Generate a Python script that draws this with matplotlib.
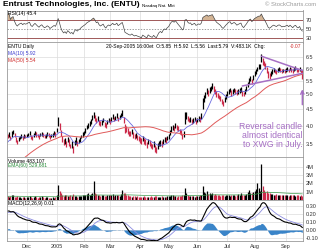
import numpy as np
import pandas as pd
import matplotlib
matplotlib.use('Agg')
import matplotlib.pyplot as plt

plt.rcParams['font.family'] = ['Liberation Sans', 'DejaVu Sans']

# trading days shown (NYSE holidays removed)
holidays = ['2004-11-25', '2004-12-24', '2005-01-17', '2005-02-21',
            '2005-03-25', '2005-05-30', '2005-07-04', '2005-09-05']
dates = pd.bdate_range('2004-11-10', '2005-09-20', freq='C', holidays=holidays)

# closes before the visible window (only feed the indicators)
warmup = [2.45, 2.42, 2.48, 2.50, 2.46, 2.44, 2.50, 2.55, 2.58, 2.54,
          2.60, 2.64, 2.60, 2.68, 2.72, 2.70, 2.76, 2.82, 2.80, 2.88,
          2.94, 2.92, 3.00, 3.06, 3.04, 3.12, 3.18, 3.16, 3.24, 3.30,
          3.28, 3.36, 3.44, 3.42, 3.50, 3.56, 3.55, 3.62, 3.68, 3.72]

close = [
    # Nov
    3.70, 3.76, 3.64, 3.78, 3.84, 3.72, 3.62, 3.56, 3.63, 3.68, 3.71, 3.66, 3.72, 3.70,
    # Dec
    3.72, 3.76, 3.79, 3.70, 3.67, 3.74, 3.80, 3.76, 3.72, 3.69, 3.75, 3.78, 3.73, 3.70,
    3.72, 3.76, 3.74, 3.69, 3.72, 3.75, 3.78, 3.76,
    # Jan
    3.86, 4.10, 3.98, 3.80, 3.65, 3.55, 3.60, 3.50, 3.62, 3.55, 3.46, 3.50, 3.40, 3.54,
    3.60, 3.52, 3.58, 3.62, 3.70, 3.75,
    # Feb
    3.80, 3.86, 3.95, 4.00, 4.06, 4.12, 4.22, 4.30, 4.24, 4.15, 4.20, 4.10, 4.05, 4.10,
    4.15, 4.05, 4.00, 4.10, 4.15,
    # Mar
    4.12, 4.18, 4.25, 4.20, 4.22, 4.28, 4.20, 4.25, 4.30, 4.36, 4.20, 3.95, 3.90, 3.85,
    3.80, 3.78, 3.82, 3.75, 3.70, 3.72, 3.68, 3.65,
    # Apr
    3.62, 3.58, 3.65, 3.60, 3.55, 3.50, 3.58, 3.52, 3.48, 3.45, 3.50, 3.42, 3.38, 3.45,
    3.52, 3.55, 3.50, 3.58, 3.62, 3.60, 3.66,
    # May
    3.70, 3.80, 3.90, 3.95, 3.92, 4.00, 3.95, 3.90, 3.85, 3.80, 3.72, 3.76, 4.25, 4.30,
    4.20, 4.15, 4.18, 4.10, 4.15, 4.20, 4.12,
    # Jun
    4.15, 4.20, 4.18, 4.26, 4.70, 4.85, 4.95, 5.10, 5.05, 5.15, 5.20, 5.30, 5.20, 5.10,
    5.00, 4.95, 4.90, 4.85, 4.75, 4.70, 4.80, 4.90,
    # Jul
    5.00, 5.10, 5.15, 5.05, 5.10, 5.16, 5.12, 5.05, 5.10, 5.14, 5.18, 5.05, 5.00, 5.10,
    5.20, 5.35, 5.50, 5.58, 5.48, 5.62,
    # Aug
    5.78, 5.88, 5.98, 6.08, 6.10, 6.45, 6.32, 6.22, 6.10, 5.95, 5.76, 5.70, 5.78, 5.88,
    5.94, 5.90, 5.86, 5.94, 5.98, 5.94, 5.88, 5.92, 5.90,
    # Sep
    5.95, 5.98, 5.92, 6.00, 5.95, 5.90, 5.98, 6.02, 5.95, 5.92, 5.98, 5.86, 5.79,
]

# daily high / low distance from the close, in cents
hi_cents = [
    6, 5, 8, 6, 5, 8, 6, 5, 6, 4, 5, 6, 4, 5,
    5, 4, 6, 5, 4, 6, 4, 5, 6, 4, 5, 4, 6, 5, 4, 5, 6, 4, 5, 4, 6, 5,
    6, 14, 10, 8, 6, 8, 6, 8, 6, 8, 6, 8, 7, 6, 8, 6, 5, 6, 5, 6,
    6, 6, 7, 8, 6, 8, 8, 10, 8, 6, 8, 6, 8, 6, 8, 6, 8, 6, 6,
    6, 6, 8, 6, 6, 8, 6, 6, 8, 10, 6, 10, 8, 8, 6, 6, 8, 6, 6, 8, 6, 6,
    6, 8, 6, 6, 8, 6, 6, 8, 6, 6, 8, 6, 6, 8, 6, 6, 8, 6, 6, 8, 6,
    6, 8, 8, 6, 8, 8, 6, 8, 6, 8, 6, 10, 15, 10, 8, 8, 6, 8, 6, 6, 8,
    6, 8, 6, 10, 15, 12, 12, 12, 10, 10, 10, 12, 10, 10, 10, 8, 8, 10, 8, 8, 10, 10,
    10, 10, 8, 10, 8, 8, 8, 10, 8, 8, 10, 8, 8, 8, 10, 12, 12, 10, 10, 10,
    12, 10, 10, 12, 10, 20, 15, 12, 12, 12, 12, 12, 10, 10, 10, 8, 8, 10, 8, 8, 8, 8, 8,
    8, 8, 8, 8, 8, 8, 8, 8, 8, 8, 8, 8, 13,
]
lo_cents = [
    5, 6, 4, 8, 6, 4, 5, 6, 4, 5, 6, 4, 5, 4,
    4, 5, 4, 6, 5, 4, 5, 6, 4, 5, 4, 6, 5, 4, 5, 4, 6, 5, 4, 5, 4, 6,
    5, 12, 10, 8, 8, 6, 8, 6, 7, 8, 6, 8, 10, 6, 8, 6, 5, 6, 5, 6,
    5, 6, 5, 6, 6, 7, 6, 8, 10, 8, 6, 8, 6, 8, 6, 8, 6, 6, 5,
    6, 6, 6, 8, 6, 6, 8, 6, 6, 8, 12, 15, 8, 8, 8, 6, 6, 8, 6, 6, 8, 6,
    8, 6, 6, 8, 6, 8, 6, 6, 8, 6, 6, 10, 8, 6, 6, 8, 6, 6, 6, 6, 6,
    6, 6, 8, 6, 8, 6, 8, 6, 8, 6, 8, 6, 20, 10, 8, 6, 8, 6, 8, 6, 6,
    6, 6, 8, 8, 20, 12, 10, 10, 10, 10, 10, 10, 12, 10, 10, 8, 8, 10, 10, 10, 8, 8,
    8, 10, 8, 10, 8, 8, 10, 8, 8, 8, 10, 10, 8, 8, 8, 10, 12, 10, 10, 10,
    10, 10, 10, 10, 12, 15, 15, 12, 12, 15, 15, 12, 10, 10, 10, 8, 10, 8, 8, 8, 8, 8, 8,
    8, 8, 8, 8, 8, 8, 8, 8, 8, 8, 8, 8, 23,
]

# volume, millions of shares
volume = [
    0.45, 0.40, 0.50, 0.55, 0.60, 0.40, 0.35, 0.45, 0.40, 0.35, 0.30, 0.40, 0.35, 0.30,
    0.35, 0.40, 0.45, 0.35, 0.30, 0.40, 0.45, 0.35, 0.30, 0.35, 0.40, 0.45, 0.35, 0.30,
    0.35, 0.40, 0.30, 0.25, 0.30, 0.35, 0.30, 0.40,
    0.60, 1.80, 1.10, 0.80, 0.60, 0.50, 0.55, 0.60, 0.45, 0.50, 0.55, 0.45, 0.70, 0.50,
    0.45, 0.40, 0.45, 0.50, 0.45, 0.55,
    0.60, 0.55, 0.70, 0.80, 0.65, 0.75, 0.90, 2.30, 0.90, 0.70, 0.60, 0.55, 0.50, 0.60,
    0.55, 0.45, 0.50, 0.55, 0.60,
    0.55, 0.60, 0.70, 0.50, 0.55, 0.65, 0.60, 0.50, 0.70, 1.20, 0.80, 0.90, 0.60, 0.55,
    0.50, 0.45, 0.40, 0.45, 0.50, 0.40, 0.45, 0.40,
    0.40, 0.35, 0.40, 0.45, 0.35, 0.40, 0.35, 0.40, 0.45, 0.40, 0.35, 0.50, 0.45, 0.40,
    0.35, 0.40, 0.45, 0.40, 0.35, 0.40, 0.45,
    0.45, 0.50, 0.60, 0.55, 0.50, 0.45, 0.40, 0.45, 0.50, 0.45, 0.55, 0.60, 1.40, 0.80,
    0.55, 0.50, 0.45, 0.50, 0.45, 0.40, 0.45,
    0.45, 0.50, 0.55, 0.60, 1.70, 1.00, 0.90, 1.10, 0.70, 0.80, 0.75, 0.90, 0.60, 0.70,
    0.65, 0.55, 0.60, 0.50, 0.55, 0.60, 0.50, 0.55,
    0.60, 0.55, 0.50, 0.65, 0.60, 0.55, 0.50, 0.60, 0.70, 0.65, 0.80, 0.60, 0.55, 0.60,
    0.75, 1.00, 1.20, 0.90, 0.80, 1.00,
    1.10, 1.30, 2.00, 1.40, 1.10, 4.40, 1.70, 1.20, 1.00, 1.10, 0.80, 0.90, 0.70, 0.75,
    0.65, 0.60, 0.70, 0.60, 0.55, 0.65, 0.60, 0.55, 0.60,
    0.60, 0.55, 0.50, 0.65, 0.60, 0.55, 0.60, 0.50, 0.55, 0.60, 0.50, 0.55, 0.483,
]

# hand drawn triangle lines and the arrow (day index, price)
trend_days = [[186, 216], [172, 216]]
trend_prices = [[6.55, 5.92], [5.30, 5.80]]
arrow_day = 216
arrow_prices = [4.55, 5.28]

month_names = ['Dec', '2005', 'Feb', 'Mar', 'Apr', 'May', 'Jun', 'Jul', 'Aug', 'Sep']
price_ticks = [3.5, 4.0, 4.5, 5.0, 5.5, 6.0, 6.5]
rsi_ticks = [30, 50, 70]
vol_ticks = [1, 2, 3, 4]
macd_ticks = [-0.1, 0.0, 0.1, 0.2, 0.3]

# indicators
n = len(close)
s = pd.Series(warmup + close)
ma10 = s.rolling(10).mean().values[-n:]
ma50 = s.rolling(50).mean().values[-n:]
macd_full = s.ewm(span=12, adjust=False).mean() - s.ewm(span=26, adjust=False).mean()
sig_full = macd_full.ewm(span=9, adjust=False).mean()
macd = macd_full.values[-n:]
signal = sig_full.values[-n:]
hist = macd - signal
d = s.diff()
gain = d.clip(lower=0).ewm(alpha=1/14, adjust=False).mean()
loss = (-d.clip(upper=0)).ewm(alpha=1/14, adjust=False).mean()
rsi = (100 - 100 / (1 + gain / loss)).values[-n:]

cl = np.array(close)
high = cl + np.array(hi_cents) / 100
low = cl - np.array(lo_cents) / 100
prev = np.array(warmup[-1:] + close[:-1])
up = cl >= prev
red = '#cc2a4a'
colors = np.where(up, 'black', red)
vol = np.array(volume)
vol_ema = pd.Series(vol).ewm(span=60, adjust=False).mean().values

x = np.arange(n)
mstart = [i for i in range(1, n) if dates[i].month != dates[i - 1].month]

fig = plt.figure(figsize=(3.2, 2.5), dpi=100)
fig.patch.set_facecolor('white')
L, W = 7 / 320, 296 / 320


def panel(top, bottom):
    ax = fig.add_axes([L, 1 - bottom / 250, W, (bottom - top) / 250])
    ax.set_xlim(-0.5, n - 0.5)
    ax.set_xticks(mstart)
    ax.set_xticklabels([])
    ax.yaxis.tick_right()
    ax.tick_params(length=0, labelsize=4, pad=2, colors='#333333')
    ax.grid(True, color='#dcdcdc', lw=0.5)
    ax.set_axisbelow(True)
    for sp in ax.spines.values():
        sp.set_color('#9a9a9a')
        sp.set_linewidth(0.6)
    return ax


# RSI
ax_r = panel(10.5, 42.5)
ax_r.set_ylim(19, 92)
ax_r.set_yticks(rsi_ticks)
ax_r.set_yticklabels(['30', '50', '70'])
ax_r.grid(False, axis='y')
ax_r.axhline(70, color='#a05858', lw=0.7)
ax_r.axhline(30, color='#a05858', lw=0.7)
ax_r.axhline(50, color='#777777', lw=0.5, ls=(0, (2, 2)))
ax_r.fill_between(x, 70, rsi, where=rsi > 70, color='#c9a27a', alpha=0.8, lw=0)
ax_r.plot(x, rsi, color='#444444', lw=0.5)
ax_r.text(0.005, 0.97, 'RSI(14) 45.4', transform=ax_r.transAxes, fontsize=3.6,
          va='top', ha='left')

# price
ax_p = panel(42.5, 157)
ax_p.set_yscale('log')
ax_p.set_ylim(3.20, 7.22)
ax_p.set_yticks(price_ticks)
ax_p.set_yticklabels([f'{t:.1f}' for t in price_ticks])
ax_p.minorticks_off()
ax_p.vlines(x, low, high, colors=colors, lw=0.9)
ax_p.plot(x, ma10, color='#6a6ae0', lw=0.6)
ax_p.plot(x, ma50, color='#e05a5a', lw=0.7)
purple = '#a66fc4'
for td, tp in zip(trend_days, trend_prices):
    ax_p.plot(td, tp, color=purple, lw=1.1, solid_capstyle='round')
ax_p.annotate('', xy=(arrow_day, arrow_prices[1]), xytext=(arrow_day, arrow_prices[0]),
              arrowprops=dict(arrowstyle='->', color=purple, lw=1.0, mutation_scale=6))
ax_p.text(0.998, 0.31, 'Reversal candle\nalmost identical\nto XWG in July.',
          transform=ax_p.transAxes, ha='right', va='top', fontsize=6.3,
          color=purple, linespacing=1.05)
ax_p.text(0.005, 0.985, 'ENTU Daily', transform=ax_p.transAxes, fontsize=3.6,
          va='top', ha='left')
ax_p.text(0.005, 0.925, 'MA(10) 5.92', transform=ax_p.transAxes, fontsize=3.6,
          va='top', ha='left', color='#3b3bd0')
ax_p.text(0.005, 0.865, 'MA(50) 5.54', transform=ax_p.transAxes, fontsize=3.6,
          va='top', ha='left', color='#d02a2a')
ax_p.text(0.335, 0.985, '20-Sep-2005 16:00et  O:5.85  H:5.92  L:5.56  Last:5.79  V:483.1K  Chg:',
          transform=ax_p.transAxes, fontsize=3.6, va='top', ha='left')
ax_p.text(0.995, 0.985, '-0.07', transform=ax_p.transAxes, fontsize=3.6,
          va='top', ha='right', color='#d02a2a')

# volume
ax_v = panel(157, 200)
ax_v.set_ylim(0, 5.2)
ax_v.set_yticks(vol_ticks)
ax_v.set_yticklabels([f'{t}M' for t in vol_ticks])
ax_v.vlines(x, 0, vol, colors=colors, lw=0.9)
ax_v.plot(x, vol_ema, color='#3a9a4a', lw=0.5)
ax_v.text(0.005, 0.97, 'Volume 483,107', transform=ax_v.transAxes, fontsize=3.6,
          va='top', ha='left')
ax_v.text(0.005, 0.86, 'EMA(60) 529,681', transform=ax_v.transAxes, fontsize=3.6,
          va='top', ha='left', color='#2a8a3a')

# MACD
ax_m = panel(200, 241)
ax_m.set_ylim(-0.14, 0.38)
ax_m.set_yticks(macd_ticks)
ax_m.set_yticklabels([f'{t:.2f}' for t in macd_ticks])
ax_m.fill_between(x, 0, hist, color='#3a84c8', lw=0)
ax_m.plot(x, signal, color='#8c8ce0', lw=0.6)
ax_m.plot(x, macd, color='black', lw=0.8)
ax_m.text(0.005, 0.97, 'MACD(12,26,9) 0.01', transform=ax_m.transAxes, fontsize=3.6,
          va='top', ha='left')
ax_m.set_xticklabels(month_names)
ax_m.tick_params(axis='x', labelsize=4, pad=2)

fig.text(3 / 320, 1 - 5 / 250, 'Entrust Technologies, Inc. (ENTU)', fontsize=6,
         weight='bold', va='center', ha='left')
fig.text(142 / 320, 1 - 5.5 / 250, 'Nasdaq Nat. Mkt', fontsize=3.2, va='center', ha='left')
fig.text(316 / 320, 1 - 5 / 250, '\u00a9 StockCharts.com', fontsize=4.2, va='center',
         ha='right', color='#9a9a9a')

fig.savefig('out.png', dpi=100)
